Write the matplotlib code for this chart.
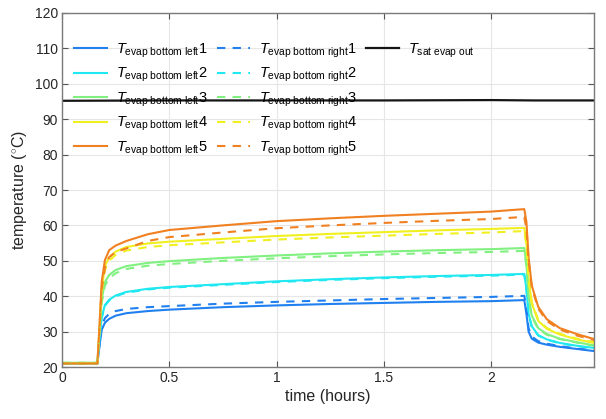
import matplotlib
matplotlib.use("Agg")
import matplotlib.pyplot as plt
from matplotlib.lines import Line2D

plt.rcParams['font.family'] = ['Liberation Sans', 'DejaVu Sans']
plt.rcParams['mathtext.fontset'] = 'custom'
plt.rcParams['mathtext.rm'] = 'Liberation Sans'
plt.rcParams['mathtext.it'] = 'Liberation Sans:italic'

# time (hours)
time_h = [0, 0.165, 0.175, 0.185, 0.20, 0.22, 0.25, 0.30, 0.40, 0.50, 0.75, 1.00, 1.25,
          1.50, 1.75, 2.00, 2.155, 2.165, 2.175, 2.19, 2.22, 2.26, 2.32, 2.40, 2.48]

left1 = [21, 21, 26, 30.5, 32.5, 33.6, 34.5, 35.2, 35.8, 36.2, 36.9, 37.4, 37.8,
         38.1, 38.4, 38.6, 38.9, 35, 30, 28, 26.9, 26.3, 25.7, 25.1, 24.5]
right1 = [21, 21, 26.5, 31.5, 33.8, 35, 35.8, 36.4, 36.9, 37.2, 37.9, 38.4, 38.8,
          39.2, 39.5, 39.8, 40.1, 36.5, 31, 28.6, 27.3, 26.6, 25.9, 25.2, 24.7]
left2 = [21, 21, 28, 34, 37.5, 39, 40.2, 41.2, 42.1, 42.6, 43.4, 44.2, 44.8,
         45.3, 45.7, 46.0, 46.3, 42, 35, 31.5, 29, 27.8, 26.8, 26, 25.4]
right2 = [21, 21, 27.8, 33.8, 37.3, 38.8, 40.0, 41.0, 41.9, 42.4, 43.2, 44.0, 44.6,
          45.1, 45.5, 45.8, 46.1, 41.8, 34.8, 31.3, 28.9, 27.7, 26.7, 25.9, 25.3]
left3 = [21.2, 21.2, 30, 39, 44, 46, 47.4, 48.5, 49.4, 49.9, 50.8, 51.5, 52.1,
         52.6, 53.0, 53.3, 53.6, 49, 40, 34.5, 31, 29.3, 28, 27, 26.1]
right3 = [21.2, 21.2, 29.5, 38, 43, 45, 46.5, 47.7, 48.6, 49.1, 50.0, 50.7, 51.3,
          51.8, 52.2, 52.5, 52.8, 48.5, 39.5, 34.2, 30.8, 29.1, 27.9, 26.9, 26.0]
left4 = [21, 21, 31, 42, 48.5, 51, 52.6, 53.9, 54.9, 55.4, 56.2, 57.0, 57.6,
         58.1, 58.6, 59.0, 59.3, 55, 45, 38, 33, 30.8, 29.2, 27.8, 26.8]
right4 = [21, 21, 30.5, 41, 47.5, 50, 51.7, 52.9, 53.9, 54.4, 55.2, 56.0, 56.6,
          57.1, 57.6, 58.0, 58.4, 54.5, 45, 38.2, 33.3, 31.0, 29.4, 28.0, 27.0]
left5 = [21, 21, 32, 44, 50.2, 53, 54.3, 55.6, 57.5, 58.7, 60.0, 61.2, 62.0,
         62.7, 63.3, 63.9, 64.6, 61, 51, 43, 37, 33.5, 31, 29.3, 27.9]
right5 = [21, 21, 31.5, 42, 48, 51, 52.5, 53.5, 55.6, 56.7, 58.0, 59.2, 60.0,
          60.7, 61.3, 61.8, 62.4, 59, 50, 42.5, 36.5, 33, 30.6, 28.9, 27.6]

sat_time = [0, 0.5, 1.0, 1.5, 2.0, 2.2, 2.48]
sat_out = [95.2, 95.3, 95.3, 95.3, 95.4, 95.3, 95.3]

colors = ['#2080F0', '#20E8F0', '#80F080', '#F0F020', '#F08020']
left_series = [left1, left2, left3, left4, left5]
right_series = [right1, right2, right3, right4, right5]

fig = plt.figure(figsize=(6.06, 4.19), dpi=100)
ax = fig.add_axes([62/606, 1 - 367/419, (594-62)/606, (367-13)/419])

lh = []
for s, c in zip(left_series, colors):
    l, = ax.plot(time_h, s, color=c, lw=1.5)
    lh.append(l)
rh = []
for s, c in zip(right_series, colors):
    l, = ax.plot(time_h, s, color=c, lw=1.5, ls=(0, (4, 3.5)))
    rh.append(l)
sh, = ax.plot(sat_time, sat_out, color='#151515', lw=1.6)

left_labels = [r'$T_{\mathrm{evap\ bottom\ left}}$' + str(i + 1) for i in range(5)]
right_labels = [r'$T_{\mathrm{evap\ bottom\ right}}$' + str(i + 1) for i in range(5)]
blank = Line2D([], [], color='none')
handles = lh + rh + [sh, blank, blank, blank, blank]
labels = left_labels + right_labels + [r'$T_{\mathrm{sat\ evap\ out}}$', '', '', '', '']

leg = ax.legend(handles, labels, ncol=3, loc='upper left', frameon=False,
                fontsize=10.5, handlelength=2.3, handletextpad=0.6,
                columnspacing=0.6, labelspacing=0.42, borderpad=0.0,
                bbox_to_anchor=(0.008, 0.94))

ax.set_xlim(0, 2.48)
ax.set_ylim(20, 120)
ax.set_xticks([0, 0.5, 1, 1.5, 2])
ax.set_xticklabels(['0', '0.5', '1', '1.5', '2'])
ax.set_yticks(range(20, 121, 10))
ax.grid(True, color='#e6e6e6', lw=0.8)
ax.set_axisbelow(True)
for sp in ax.spines.values():
    sp.set_color('#7a7a7a')
    sp.set_linewidth(1.0)
ax.tick_params(direction='in', length=4, color='#555555', labelsize=10,
               labelcolor='#262626', top=True, right=True, pad=3)
ax.set_xlabel('time (hours)', fontsize=11.5, color='#262626', labelpad=3)
ax.set_ylabel(r'temperature ($^{\circ}$C)', fontsize=11.5, color='#262626', labelpad=4)

fig.savefig('out.png', dpi=100)
